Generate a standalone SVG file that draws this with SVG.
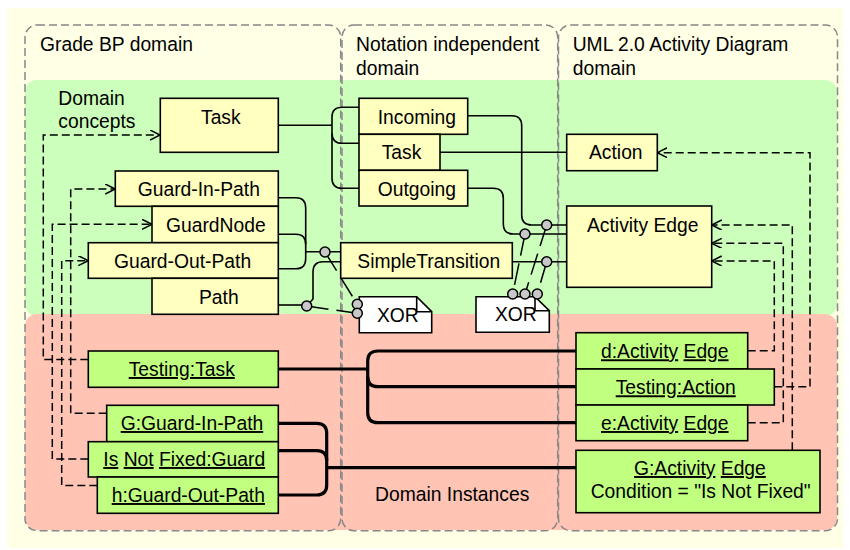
<svg xmlns="http://www.w3.org/2000/svg" width="850" height="550" viewBox="0 0 850 550">
<style>
text{font-family:"Liberation Sans",Arial,sans-serif;font-size:19.3px;fill:#000}
.dom{fill:none;stroke:#888;stroke-width:1.5;stroke-dasharray:8 4}
.yn{fill:#FFFFC0;stroke:#000;stroke-width:1.6}
.gn{fill:#C0FF80;stroke:#000;stroke-width:1.6}
.note{fill:#fff;stroke:#000;stroke-width:1.6}
.c{fill:none;stroke:#000;stroke-width:1.6}
.ck{fill:none;stroke:#000;stroke-width:3.2}
.d{fill:none;stroke:#000;stroke-width:1.5;stroke-dasharray:8 4}
.lk{fill:none;stroke:#000;stroke-width:1.5;stroke-dasharray:22 8}
.dot{fill:#C8C8C8;stroke:#000;stroke-width:1.5}
.u{text-decoration:underline}
</style>
<defs>
<marker id="arr" markerUnits="userSpaceOnUse" markerWidth="12" markerHeight="12" refX="10" refY="5" orient="auto">
<path d="M0,0 L10,5 L0,10" fill="none" stroke="#000" stroke-width="1.5"/>
</marker>
</defs>
<rect x="0" y="0" width="850" height="550" fill="#fff"/>
<rect x="7" y="8" width="836" height="540" fill="#FFFFE6"/>
<rect x="25" y="80" width="812" height="236" rx="12" fill="#CCFFBB"/>
<rect x="25" y="314" width="812" height="216" rx="12" fill="#FFC4B4"/>
<rect class="dom" x="25" y="25" width="315.7" height="505.7" rx="12"/>
<rect class="dom" x="342" y="25" width="215.7" height="505.7" rx="12"/>
<rect class="dom" x="558.5" y="25" width="279" height="505.7" rx="12"/>
<text x="40" y="51">Grade BP domain</text>
<text x="356" y="51">Notation independent</text>
<text x="356" y="75">domain</text>
<text x="572.7" y="51">UML 2.0 Activity Diagram</text>
<text x="572.7" y="75">domain</text>
<text x="58.3" y="105">Domain</text>
<text x="58.3" y="128">concepts</text>
<text x="375" y="500.7">Domain Instances</text>

<g id="connectors">
<!-- Task to notation nodes -->
<path class="c" d="M278,125.3 H332"/>
<path class="c" d="M359,107.3 H342 Q332,107.3 332,117 V178.3 Q332,188.3 342,188.3 H359"/>
<path class="c" d="M332,133.3 Q332,143.3 342,143.3 H359"/>
<!-- Guard bracket -->
<path class="c" d="M278,197.7 H296 Q305.7,197.7 305.7,208 V258.7 Q305.7,268.7 296,268.7 H278"/>
<path class="c" d="M278,234.3 H296 Q305.7,234.3 305.7,244.3"/>
<path class="c" d="M305.7,251.7 H341"/>
<!-- Path to SimpleTransition -->
<path class="c" d="M278,305 H303"/>
<path class="c" d="M306.7,306 L313,299 V272 Q313,261.7 323,261.7 H341"/>
<!-- right side -->
<path class="c" d="M467.7,115.7 H512 Q521.7,115.7 521.7,125.7 V215 Q521.7,225 531.7,225 H566.7"/>
<path class="c" d="M467.7,188.3 H493.3 Q503.3,188.3 503.3,198.3 V224 Q503.3,234 513.3,234 H566.7"/>
<path class="c" d="M440,152.3 H566.7"/>
<path class="c" d="M512.3,261.7 H566.7"/>
<!-- XOR links -->
<path class="lk" d="M325,252 L357.3,304.3"/>
<path class="lk" d="M306.7,306 L357.3,313.3"/>
<path class="lk" d="M525,234 L512.7,294"/>
<path class="lk" d="M546.7,225 L525,294"/>
<path class="lk" d="M546.7,261.7 L537.3,294"/>
<!-- instance links thick -->
<path class="ck" d="M278,369 H367.7"/>
<path class="ck" d="M577,351 H378 Q367.7,351 367.7,361 V412.7 Q367.7,422.7 378,422.7 H577"/>
<path class="ck" d="M367.7,376.7 Q367.7,386.7 378,386.7 H577"/>
<path class="ck" d="M278,423.3 H316.7 Q326.7,423.3 326.7,433.3 V485 Q326.7,495 316.7,495 H278"/>
<path class="ck" d="M278,450.7 H316.7 Q326.7,450.7 326.7,460.7"/>
<path class="ck" d="M326.7,467.7 H577"/>
<!-- left dashed instance-of -->
<path class="d" marker-end="url(#arr)" d="M88.3,359.5 H43.3 V135 H160"/>
<path class="d" marker-end="url(#arr)" d="M106.7,413.3 H70.7 V189 H115.3"/>
<path class="d" marker-end="url(#arr)" d="M88.3,459 H52.3 V224.3 H152"/>
<path class="d" marker-end="url(#arr)" d="M97.3,485.5 H61.7 V260.7 H88.3"/>
<!-- right dashed instance-of -->
<path class="d" marker-end="url(#arr)" d="M774.3,386.7 H810 V152.7 H657.3"/>
<path class="d" marker-end="url(#arr)" d="M792.3,450.3 V225 H711.7"/>
<path class="d" marker-end="url(#arr)" d="M747.7,422.7 H783.3 V243.3 H711.7"/>
<path class="d" marker-end="url(#arr)" d="M747.7,350.7 H774.3 V261 H711.7"/>
<!-- dots -->
<circle class="dot" cx="325" cy="252" r="5"/>
<circle class="dot" cx="306.7" cy="306" r="5"/>
<circle class="dot" cx="546.7" cy="225" r="5"/>
<circle class="dot" cx="525" cy="234" r="5"/>
<circle class="dot" cx="546.7" cy="261.7" r="5"/>
</g>

<g id="n-task">
<rect class="yn" x="160.3" y="98.3" width="118" height="54"/>
<text x="201" y="124">Task</text>
</g>
<g id="n-guard-in-path">
<rect class="yn" x="115.3" y="171" width="163" height="35.3"/>
<text x="137.7" y="196">Guard-In-Path</text>
</g>
<g id="n-guardnode">
<rect class="yn" x="152" y="206.3" width="126.3" height="36.4"/>
<text x="166" y="232">GuardNode</text>
</g>
<g id="n-guard-out-path">
<rect class="yn" x="88.3" y="242.7" width="190" height="35.6"/>
<text x="114" y="268">Guard-Out-Path</text>
</g>
<g id="n-path">
<rect class="yn" x="152" y="278.3" width="126.3" height="36"/>
<text x="199" y="304">Path</text>
</g>
<g id="n-incoming">
<rect class="yn" x="359" y="98.3" width="108.7" height="36"/>
<text x="377.7" y="124">Incoming</text>
</g>
<g id="n-task2">
<rect class="yn" x="359" y="134.3" width="81" height="36"/>
<text x="381.7" y="159">Task</text>
</g>
<g id="n-outgoing">
<rect class="yn" x="359" y="170.3" width="108.7" height="35.7"/>
<text x="377.7" y="196">Outgoing</text>
</g>
<g id="n-simpletransition">
<rect class="yn" x="340.7" y="242.7" width="171.6" height="35.6"/>
<text x="357.3" y="268">SimpleTransition</text>
</g>
<g id="n-action">
<rect class="yn" x="566.7" y="134.3" width="90.6" height="36.4"/>
<text x="589" y="159">Action</text>
</g>
<g id="n-activityedge">
<rect class="yn" x="566.7" y="206" width="145" height="81.3"/>
<text x="587" y="231.7">Activity Edge</text>
</g>
<g id="n-xor1">
<path class="note" d="M359.3,296.7 H416.7 L431.7,311.7 V332.7 H359.3 Z"/>
<text x="377" y="321.7">XOR</text>
<path class="c" d="M416.7,296.7 V311.7 H431.7"/>
<circle class="dot" cx="357.3" cy="304.3" r="5"/>
<circle class="dot" cx="357.3" cy="313.3" r="5"/>
</g>
<g id="n-xor2">
<path class="note" d="M476,296.7 H535 L549.3,310.7 V332.3 H476 Z"/>
<text x="495" y="321">XOR</text>
<path class="c" d="M535,296.7 V310.7 H549.3"/>
<circle class="dot" cx="512.7" cy="294" r="5"/>
<circle class="dot" cx="525" cy="294" r="5"/>
<circle class="dot" cx="537.3" cy="294" r="5"/>
</g>
<g id="n-testing-task">
<rect class="gn" x="88.3" y="351" width="190" height="36.3"/>
<text x="128.7" y="376"><tspan class="u">Testing:Task</tspan></text>
</g>
<g id="n-g-guard-in-path">
<rect class="gn" x="106.7" y="405.3" width="171.6" height="36.4"/>
<text x="120.7" y="430"><tspan class="u">G:Guard-In-Path</tspan></text>
</g>
<g id="n-isnotfixed">
<rect class="gn" x="88.3" y="441.7" width="190" height="35.3"/>
<text x="103.3" y="466"><tspan class="u">Is</tspan> <tspan class="u">Not</tspan> <tspan class="u">Fixed:Guard</tspan></text>
</g>
<g id="n-h-guard-out-path">
<rect class="gn" x="97.3" y="477" width="181" height="36.3"/>
<text x="111.7" y="502"><tspan class="u">h:Guard-Out-Path</tspan></text>
</g>
<g id="n-d-activityedge">
<rect class="gn" x="576" y="332.7" width="171.7" height="36.3"/>
<text x="601" y="358.3"><tspan class="u">d:Activity</tspan> <tspan class="u">Edge</tspan></text>
</g>
<g id="n-testing-action">
<rect class="gn" x="576" y="369" width="198.3" height="36"/>
<text x="615.7" y="394.3"><tspan class="u">Testing:Action</tspan></text>
</g>
<g id="n-e-activityedge">
<rect class="gn" x="576" y="405" width="171.7" height="35.7"/>
<text x="601" y="430"><tspan class="u">e:Activity</tspan> <tspan class="u">Edge</tspan></text>
</g>
<g id="n-g-activityedge">
<rect class="gn" x="576" y="450.3" width="244" height="62.4"/>
<text x="634" y="475"><tspan class="u">G:Activity</tspan> <tspan class="u">Edge</tspan></text>
<text x="590.7" y="498.3">Condition = "Is Not Fixed"</text>
</g>
</svg>
